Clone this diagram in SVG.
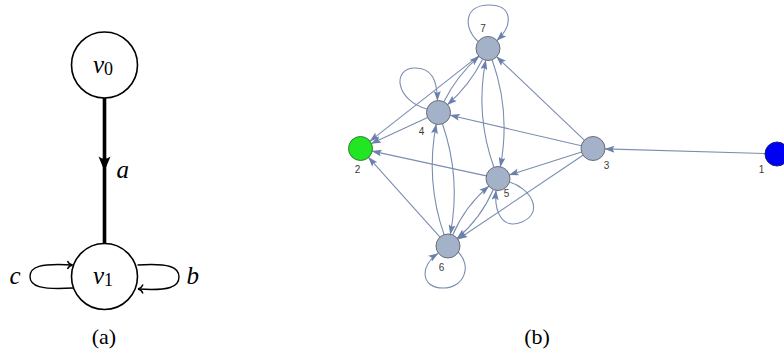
<svg xmlns="http://www.w3.org/2000/svg" width="784" height="361" viewBox="0 0 784 361">
<defs>
<style>
.cm{font-family:"Liberation Serif","DejaVu Serif",serif;font-style:italic;fill:#000}
.rm{font-family:"Liberation Serif","DejaVu Serif",serif;fill:#000}
.st{fill:#fff;stroke:#000;stroke-width:1.6}
.lp{fill:none;stroke:#000;stroke-width:1.4}
.e{fill:none;stroke:#7b8db1;stroke-width:1.1;marker-end:url(#ah)}
.n{fill:#a3b1c9;stroke:#686e78;stroke-width:1}
.lb{font-family:"Liberation Sans","DejaVu Sans",sans-serif;font-size:10px;fill:#3a3a3a;text-anchor:middle}
</style>
<marker id="ah" markerUnits="userSpaceOnUse" viewBox="0 0 10 7" markerWidth="10" markerHeight="7" refX="9.5" refY="3.5" orient="auto">
<path d="M0,0 L10,3.5 L0,7 L2,3.5 z" fill="#6a82ab"/>
</marker>
</defs>

<!-- (a) -->
<g id="a-edges">
<line x1="104.5" y1="98" x2="104.5" y2="243.5" stroke="#000" stroke-width="3.6"/>
<path d="M104.5,171 L98.5,156.5 Q104.5,161 110.5,156.5 Z" fill="#000"/>
<path class="lp" d="M73,288 C40,290 30,286 30,276.5 C30,267 40,263 72.5,265"/>
<path class="lp" d="M67.5,261 C68.5,263.5 70.5,264.6 72.5,265 C70.5,265.4 68.5,266.6 67.5,269"/>
<path class="lp" d="M137.5,265 C169,263 179,267 179,277 C179,287 169,291 138,289"/>
<path class="lp" d="M143,284.6 C142,287 140,288.6 138,289 C140,289.4 142,291 143,293.4"/>
</g>
<g id="v0">
<circle class="st" cx="104.5" cy="65" r="33"/>
<text class="cm" x="93" y="73" font-size="25">v<tspan font-style="normal" font-size="18" dy="2">0</tspan></text>
</g>
<g id="v1">
<circle class="st" cx="104.5" cy="276.5" r="33"/>
<text class="cm" x="93" y="283.5" font-size="25">v<tspan font-style="normal" font-size="18" dy="2">1</tspan></text>
</g>
<text class="cm" x="116.5" y="177.5" font-size="25">a</text>
<text class="cm" x="9.5" y="283.5" font-size="25">c</text>
<text class="cm" x="186.5" y="283.5" font-size="25">b</text>
<text class="rm" x="104" y="344" font-size="22" text-anchor="middle">(a)</text>

<!-- (b) -->
<g id="connectors">
<path class="e" d="M765,153.6 L605,148.9"/>
<path class="e" d="M584.3,140.2 L496.7,56.8"/>
<path class="e" d="M581.3,145.8 L450.2,115.2"/>
<path class="e" d="M581.6,152.1 L509.4,174.9"/>
<path class="e" d="M583,155.2 L458,239.3"/>
<path class="e" d="M486.3,175.9 L372.2,151.1"/>
<path class="e" d="M440,237.1 L368.5,157.4"/>
<path class="e" d="M427.6,117.5 L371.4,143.5"/>
<path class="e" d="M478.6,55.9 L370,141.1"/>
<path class="e" d="M443.9,101.7 Q456.9,75.6 479,56.4"/>
<path class="e" d="M482.6,59.3 Q469.6,85.4 447.5,104.6"/>
<path class="e" d="M493.9,167.2 Q475.1,114.9 485.7,60.3"/>
<path class="e" d="M492.1,59.8 Q510.9,112.1 500.3,166.7"/>
<path class="e" d="M444.1,234.7 Q425.3,180.5 436.2,124.3"/>
<path class="e" d="M442.4,123.8 Q461.2,178 450.3,234.2"/>
<path class="e" d="M452.7,235 Q465,206.3 488.8,186.2"/>
<path class="e" d="M493.3,189.5 Q481,218.2 457.2,238.3"/>
<path class="e" d="M478,41.5 C463,28 464,5 489,5 C512,5 514,24 497,40.5"/>
<path class="e" d="M427,109 C395,100 392,68 415,68 C432,68 437,80 437.5,100.5"/>
<path class="e" d="M509.5,182 C530,188 545,212 522,222 C502,230 494,212 496,190.5"/>
<path class="e" d="M458,252 C472,265 465,288 443,288 C420,288 420,265 438,253.5"/>
</g>
<g id="n1"><circle cx="777" cy="154" r="12" fill="#0000f2" stroke="#20207a" stroke-width="1"/><text class="lb" x="761.5" y="173">1</text></g>
<g id="n2"><circle cx="360.5" cy="148.5" r="12" fill="#22e622" stroke="#357a35" stroke-width="1"/><text class="lb" x="357.5" y="173">2</text></g>
<g id="n3"><circle class="n" cx="593" cy="148.5" r="12"/><text class="lb" x="606.5" y="169">3</text></g>
<g id="n4"><circle class="n" cx="438.5" cy="112.5" r="12"/><text class="lb" x="421.5" y="134.5">4</text></g>
<g id="n5"><circle class="n" cx="498" cy="178.5" r="12"/><text class="lb" x="506.5" y="197">5</text></g>
<g id="n6"><circle class="n" cx="448" cy="246" r="12"/><text class="lb" x="441.5" y="270.5">6</text></g>
<g id="n7"><circle class="n" cx="488" cy="48.5" r="12"/><text class="lb" x="483" y="31.5">7</text></g>
<text class="rm" x="537" y="344" font-size="22" text-anchor="middle">(b)</text>
</svg>
